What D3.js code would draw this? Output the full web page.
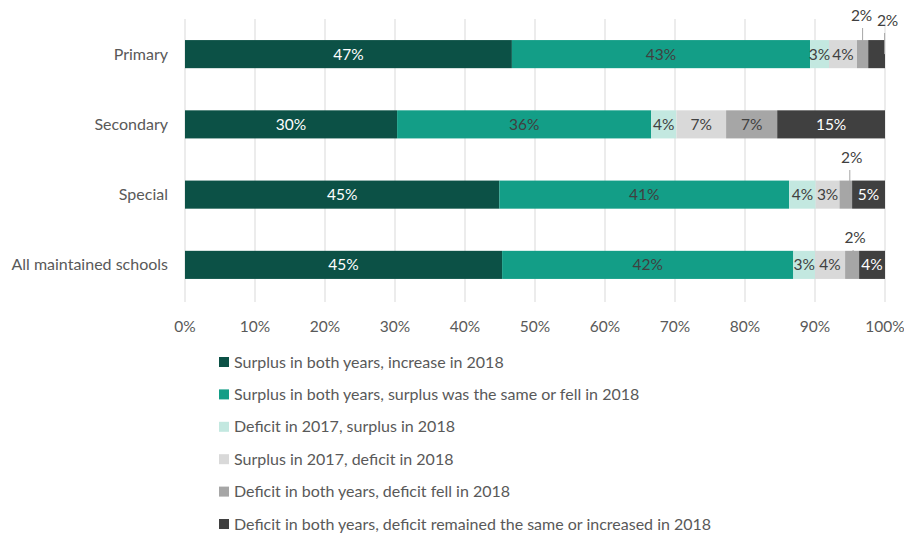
<!DOCTYPE html>
<html lang="en">
<head>
  <meta charset="UTF-8">
  <title>School balances 2017 to 2018</title>
  <script src="https://d3js.org/d3.v7.min.js"></script>
  <style>
    body { margin: 0; background: white; }
    text { font-family: Lato, "Open Sans", sans-serif; }
  </style>
</head>
<body>
<svg id="chart" width="904" height="536"></svg>

<script>
  // Categories (top to bottom)
  const categories = ["Primary", "Secondary", "Special", "All maintained schools"];

  // Series names, in stacking order
  const seriesNames = [
    "Surplus in both years, increase in 2018",
    "Surplus in both years, surplus was the same or fell in 2018",
    "Deficit in 2017, surplus in 2018",
    "Surplus in 2017, deficit in 2018",
    "Deficit in both years, deficit fell in 2018",
    "Deficit in both years, deficit remained the same or increased in 2018"
  ];

  // Percent values per series, one entry per category
  const surplusIncrease = [46.7, 30.3, 44.9, 45.3];
  const surplusSameOrFell = [42.6, 36.3, 41.4, 41.6];
  const deficitToSurplus = [2.7, 3.6, 3.8, 3.1];
  const surplusToDeficit = [4.0, 7.1, 3.4, 4.3];
  const deficitFell = [1.6, 7.3, 1.8, 2.0];
  const deficitSameOrRose = [2.4, 15.4, 4.7, 3.7];

  const xTicks = [0, 10, 20, 30, 40, 50, 60, 70, 80, 90, 100];

  const colors = ["#0c5146", "#139e87", "#c3e8e0", "#d9d9d9", "#a6a6a6", "#404040"];
  const labelColors = ["#ffffff", "#404040", "#404040", "#404040", "#404040", "#ffffff"];

  const allSeries = [surplusIncrease, surplusSameOrFell, deficitToSurplus,
                     surplusToDeficit, deficitFell, deficitSameOrRose];

  // build rows for d3.stack
  const rows = categories.map((c, i) => {
    let r = {category: c};
    seriesNames.forEach((s, j) => r[s] = allSeries[j][i]);
    return r;
  });

  const svg = d3.select("#chart");

  const x = d3.scaleLinear().domain([0, 100]).range([185, 885]);
  const y = d3.scaleBand().domain(categories).range([19, 300])
          .paddingInner(0.6).paddingOuter(0.3);

  // gridlines
  svg.append("g")
          .selectAll("line")
          .data(xTicks)
          .enter().append("line")
          .attr("x1", d => x(d)).attr("x2", d => x(d))
          .attr("y1", 19).attr("y2", 302)
          .attr("stroke", "#d9d9d9")
          .attr("stroke-width", 1);

  // x tick labels
  svg.append("g")
          .selectAll("text")
          .data(xTicks)
          .enter().append("text")
          .attr("x", d => x(d))
          .attr("y", 332)
          .attr("text-anchor", "middle")
          .attr("font-size", 15.5)
          .attr("fill", "#595959")
          .text(d => d + "%");

  // category labels
  svg.append("g")
          .selectAll("text")
          .data(categories)
          .enter().append("text")
          .attr("x", 168)
          .attr("y", d => y(d) + y.bandwidth() / 2 + 5.5)
          .attr("text-anchor", "end")
          .attr("font-size", 16)
          .attr("fill", "#595959")
          .text(d => d);

  const stacked = d3.stack().keys(seriesNames)(rows);

  // segments whose labels sit above the bar with a leader line: "series|category"
  // dx = label shift, lx = leader line shift from segment centre
  const outside = {
    "4|0": {dx: -1, lx: 0, ly: 15},
    "5|0": {dx: 11, lx: 8, ly: 20},
    "4|2": {dx: 6, lx: 4, ly: 157},
    "4|3": {dx: 3, lx: 1, ly: 237}
  };

  const layers = svg.append("g")
          .selectAll("g")
          .data(stacked)
          .enter().append("g")
          .attr("fill", (d, i) => colors[i]);

  layers.selectAll("rect")
          .data(d => d)
          .enter().append("rect")
          .attr("x", d => x(d[0]))
          .attr("width", d => x(d[1]) - x(d[0]))
          .attr("y", d => y(d.data.category))
          .attr("height", y.bandwidth());

  // data labels
  stacked.forEach((layer, si) => {
    layer.forEach((d, ci) => {
      let v = d[1] - d[0];
      let cx = (x(d[0]) + x(d[1])) / 2;
      let cy = y(d.data.category) + y.bandwidth() / 2;
      let key = si + "|" + ci;
      if (outside[key]) {
        let o = outside[key];
        svg.append("line")
                .attr("x1", cx + o.lx).attr("x2", cx + o.lx)
                .attr("y1", cy).attr("y2", o.ly + 13)
                .attr("stroke", "#a6a6a6")
                .attr("stroke-width", 1);
        svg.append("text")
                .attr("x", cx + o.dx)
                .attr("y", o.ly + 5.5)
                .attr("text-anchor", "middle")
                .attr("font-size", 15.5)
                .attr("fill", "#404040")
                .text(Math.round(v) + "%");
      } else {
        svg.append("text")
                .attr("x", cx)
                .attr("y", cy + 5.5)
                .attr("text-anchor", "middle")
                .attr("font-size", 15.5)
                .attr("fill", labelColors[si])
                .text(Math.round(v) + "%");
      }
    });
  });

  // legend
  const legend = svg.append("g")
          .selectAll("g")
          .data(seriesNames)
          .enter().append("g")
          .attr("transform", (d, i) => "translate(219," + (362 + i * 32.4) + ")");

  legend.append("rect")
          .attr("x", 0).attr("y", -5)
          .attr("width", 10).attr("height", 10)
          .attr("fill", (d, i) => colors[i]);

  legend.append("text")
          .attr("x", 15)
          .attr("y", 5.5)
          .attr("font-size", 16)
          .attr("fill", "#595959")
          .text(d => d);
</script>
</body>
</html>
